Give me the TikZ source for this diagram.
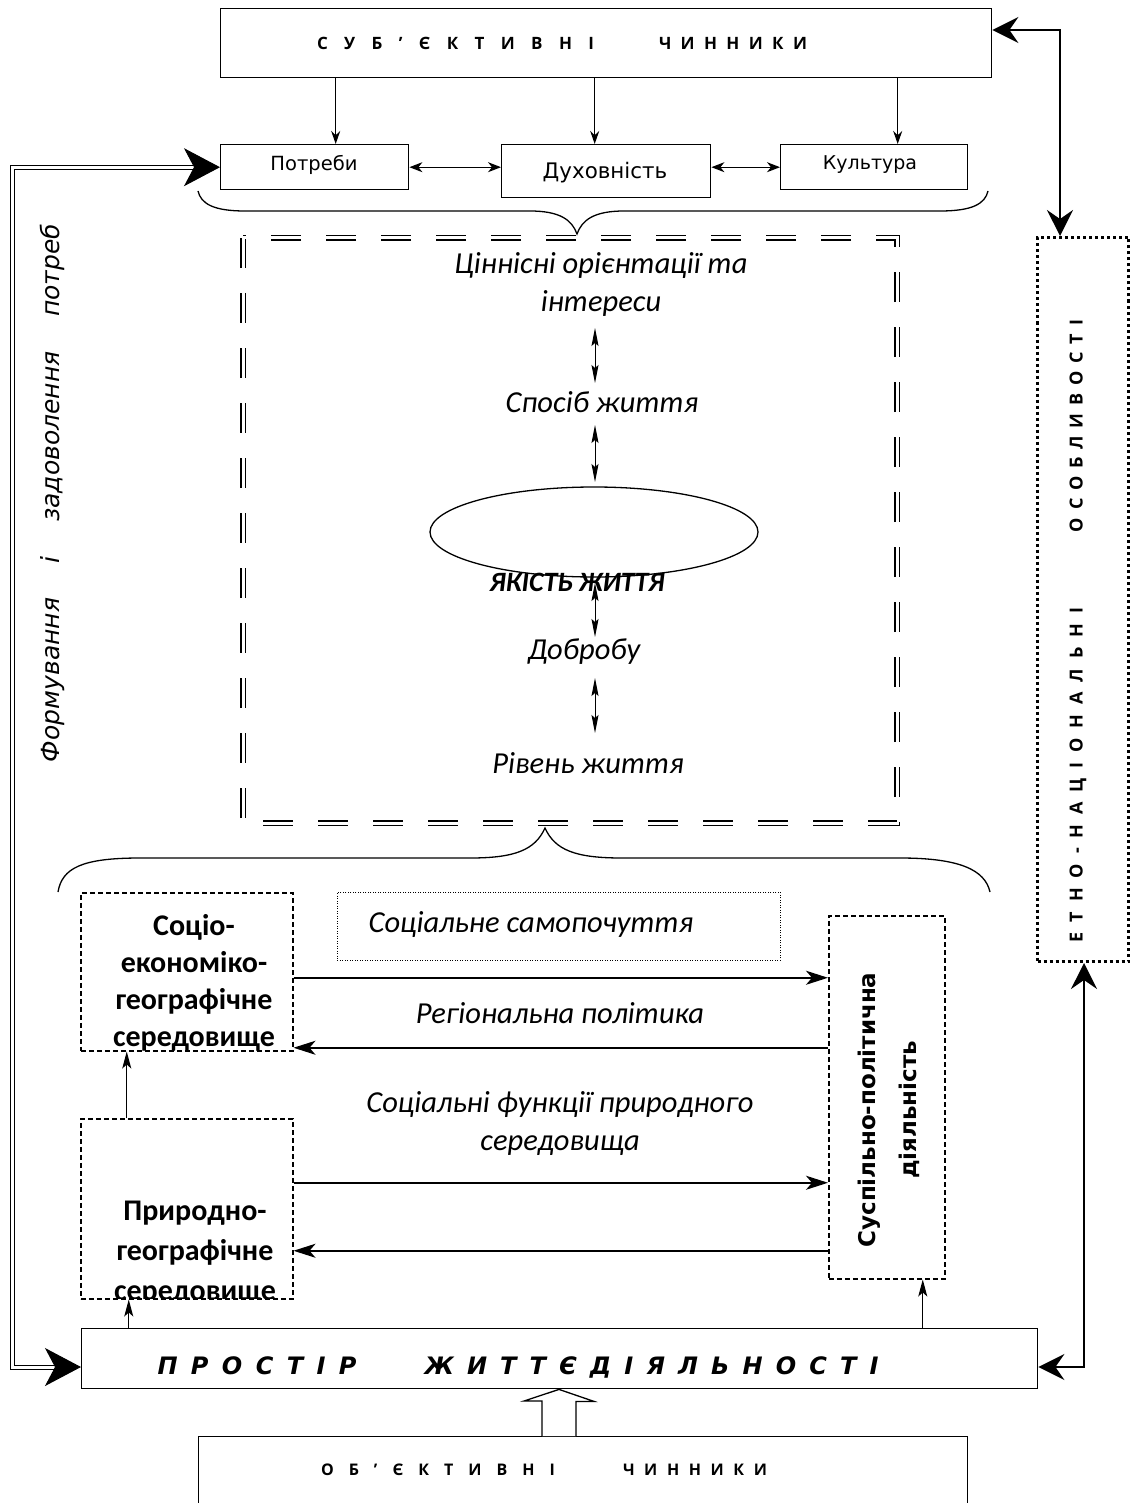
\documentclass[tikz,border=0pt]{standalone}
\usepackage{fontspec}
\setmainfont{Carlito}
\newfontfamily\dvs{DejaVu Sans}
\newfontfamily\osans{Open Sans}
\usetikzlibrary{arrows.meta,shapes.geometric,calc}
\newcommand{\spr}[2]{\makebox[#1][s]{#2}}
\begin{document}
\begin{tikzpicture}[x=1pt,y=-1pt,
  box/.style={draw, line width=1.4pt, inner sep=0pt, anchor=north west},
  dbox/.style={draw, line width=1.5pt, dash pattern=on 5pt off 3pt, inner sep=0pt, anchor=north west},
  dotbox/.style={draw, line width=0.8pt, dash pattern=on 1pt off 1.5pt, inner sep=0pt, anchor=north west},
  thickdot/.style={draw, line width=3pt, dash pattern=on 3pt off 3pt, inner sep=0pt, anchor=north west},
  frame/.style={draw, double, double distance=3pt, line width=1.2pt, dash pattern=on 30pt off 25pt},
  downarr/.style={line width=1.3pt, -{Stealth[length=13pt,width=9pt]}},
  smallboth/.style={line width=1.2pt, {Stealth[length=13pt,width=10pt,inset=4pt]}-{Stealth[length=13pt,width=10pt,inset=4pt]}},
  vboth/.style={line width=0.9pt, {Stealth[length=18pt,width=7pt,inset=3pt]}-{Stealth[length=18pt,width=7pt,inset=3pt]}},
  harr/.style={line width=1.8pt, -{Stealth[length=22pt,width=14pt,inset=6pt]}},
  uparr/.style={line width=1.2pt, -{Stealth[length=17pt,width=9pt,inset=4pt]}},
  bigdouble/.style={double, double distance=3pt, line width=1pt, {Stealth[length=36pt,width=38pt,inset=10pt]}-{Stealth[length=36pt,width=38pt,inset=10pt]}},
  bigr/.style={line width=1.8pt, {Stealth[length=26pt,width=26pt,inset=9pt]}-{Stealth[length=26pt,width=26pt,inset=9pt]}},
  itx/.style={font={\itshape\fontsize{30.5}{38}\selectfont}, align=center, inner sep=0pt},
  brace/.style={line width=1.3pt}
]
\useasboundingbox (0,0) rectangle (1130,1503);

% top box
\node[box, minimum width=771pt, minimum height=69pt] (top) at (220,8) {};
\node[font={\osans\bfseries\fontsize{17}{20}\selectfont}, inner sep=0pt] (topT) at (562,43)
  {\spr{277pt}{С У Б ’ Є К Т И В Н І}\hspace{65pt}\spr{148pt}{Ч И Н Н И К И}};

\node[box, minimum width=188pt, minimum height=45pt] (potrebi) at (220,144) {};
\node[font={\dvs\fontsize{19.5}{22}\selectfont}, inner sep=0pt] (potrebiT) at (314,165) {Потреби};
\node[box, minimum width=209pt, minimum height=53pt] (dukh) at (501,144) {};
\node[font={\dvs\fontsize{21.4}{24}\selectfont}, inner sep=0pt] (dukhT) at (605,173) {Духовність};
\node[box, minimum width=187pt, minimum height=45pt] (kult) at (780,144) {};
\node[font={\dvs\fontsize{19}{22}\selectfont}, inner sep=0pt] (kultT) at (870,165) {Культура};

\draw[downarr] ([xshift=21pt]potrebi.north |- top.south) -- ([xshift=21pt]potrebi.north);
\draw[downarr] ([xshift=-11.5pt]dukh.north |- top.south) -- ([xshift=-11.5pt]dukh.north);
\draw[downarr] ([xshift=23.5pt]kult.north |- top.south) -- ([xshift=23.5pt]kult.north);
\draw[smallboth] (potrebi.east) -- (potrebi.east -| dukh.west);
\draw[smallboth] (kult.west -| dukh.east) -- (kult.west);

% top brace
\draw[brace] (198,191) .. controls (201,204) and (214,211) .. (245,211) -- (530,211)
  .. controls (560,211) and (572,220) .. (577,234) .. controls (582,220) and (594,211) .. (624,211)
  -- (940,211) .. controls (972,211) and (985,204) .. (988,191);

% dashed double frame
\draw[frame] (243,238) rectangle (897,823);

\node[itx] (t1) at (601,284) {Ціннісні орієнтації та\\інтереси};
\node[itx] (t2) at (602,402) {Спосіб життя};
\node[draw, ellipse, line width=1.3pt, minimum width=328pt, minimum height=90pt, inner sep=0pt] (ell) at (594,532) {};
\node[font={\bfseries\itshape\fontsize{28}{30}\selectfont}, inner sep=0pt] (t3) at (577,582) {ЯКІСТЬ ЖИТТЯ};
\node[itx] (t4) at (584,652) {Добробу};
\node[itx] (t5) at (588,763) {Рівень життя};

\coordinate (v1a) at (595,328); \coordinate (v1b) at (595,383);
\coordinate (v2a) at (595,425); \coordinate (v2b) at (595,482);
\coordinate (v3a) at (595,583); \coordinate (v3b) at (595,637);
\coordinate (v4a) at (595,678); \coordinate (v4b) at (595,733);
\draw[vboth] (v1a) -- (v1b);
\draw[vboth] (v2a) -- (v2b);
\draw[vboth] (v3a) -- (v3b);
\draw[vboth] (v4a) -- (v4b);

% bottom brace
\draw[brace] (58,892) .. controls (62,868) and (82,858) .. (140,858) -- (470,858)
  .. controls (515,858) and (535,850) .. (545,828) .. controls (555,850) and (575,858) .. (622,858)
  -- (900,858) .. controls (960,858) and (985,870) .. (990,892);

% left boxes
\node[dbox, minimum width=212pt, minimum height=158pt] (socio) at (80,892) {};
\node[font={\bfseries\fontsize{30}{37}\selectfont}, align=center, inner sep=0pt] (socioT) at (194,983)
  {Соціо-\\економіко-\\географічне\\середовище};
\begin{scope}
\clip (80,1118) rectangle (292,1298);
\node[font={\bfseries\fontsize{30}{40}\selectfont}, align=center, inner sep=0pt] (pryrT) at (195,1253)
  {Природно-\\географічне\\середовище};
\end{scope}
\node[dbox, minimum width=212pt, minimum height=180pt] (pryr) at (80,1118) {};

\node[dotbox, minimum width=443pt, minimum height=68pt] (samop) at (337,892) {};
\node[itx] (samopT) at (531,925) {Соціальне самопочуття};

\node[dbox, minimum width=116pt, minimum height=363pt] (susp) at (828,915) {};
\node[rotate=90, font={\dvs\bfseries\fontsize{23}{41}\selectfont}, align=center, inner sep=0pt] (suspT) at (889,1110)
  {Суспільно-політична\\діяльність};

\node[itx] (regT) at (560,1013) {Регіональна політика};
\node[itx] (funcT) at (560,1124) {Соціальні функції природного\\середовища};

\draw[harr] ([yshift=-6pt]socio.east) -- ([yshift=-6pt]socio.east -| susp.west);
\draw[harr] ([yshift=-76pt]socio.east -| susp.west) -- ([yshift=-76pt]socio.east);
\draw[harr] ([yshift=26pt]pryr.east) -- ([yshift=26pt]pryr.east -| susp.west);
\draw[harr] ([yshift=-42pt]pryr.east -| susp.west) -- ([yshift=-42pt]pryr.east);
\draw[uparr] ([xshift=-60pt]pryr.north) -- ([xshift=-60pt]pryr.north |- socio.south);

% right dotted box
\node[thickdot, minimum width=91pt, minimum height=724pt] (etno) at (1036,236) {};
\node[rotate=90, font={\osans\bfseries\fontsize{18}{22}\selectfont}, inner sep=0pt] (etnoT) at (1078,631)
  {\spr{334pt}{Е Т Н О - Н А Ц І О Н А Л Ь Н І}\hspace{76pt}\spr{212pt}{О С О Б Л И В О С Т І}};

% space of life
\node[box, minimum width=956pt, minimum height=60pt] (prostir) at (81,1328) {};
\node[font={\dvs\bfseries\itshape\fontsize{24}{28}\selectfont}, inner sep=0pt] (prostirT) at (518,1367)
  {\spr{199pt}{П Р О С Т І Р}\hspace{68pt}\spr{454pt}{Ж И Т Т Є Д І Я Л Ь Н О С Т І}};

\draw[uparr] ([xshift=-58pt]pryr.south |- prostir.north) -- ([xshift=-58pt]pryr.south);
\draw[uparr] ([xshift=36pt]susp.south |- prostir.north) -- ([xshift=36pt]susp.south);

% objective factors
\node[box, minimum width=769pt, minimum height=100pt] (obj) at (198,1436) {};
\node[font={\osans\bfseries\fontsize{16}{20}\selectfont}, inner sep=0pt] (objT) at (544,1470)
  {\spr{234pt}{О Б ’ Є К Т И В Н І}\hspace{68pt}\spr{144pt}{Ч И Н Н И К И}};

\coordinate (ba) at (obj.north -| 559,0);
\draw[line width=1.3pt, fill=white] ([xshift=-17pt]ba) -- ++(0,-35) -- ++(-18,0) -- ($(ba |- prostir.south)$) -- ++(35,12) -- ++(-18,0) -- ([xshift=17pt]ba);

% left vertical text
\node[rotate=90, font={\dvs\itshape\fontsize{25}{28}\selectfont}, inner sep=0pt] (leftT) at (52,493)
  {\spr{538pt}{Формування і задоволення потреб}};

% connectors with big heads
\coordinate (L1) at (12,166.5);
\coordinate (L2) at (12,1367);
\draw[bigdouble] (potrebi.west) -- (potrebi.west -| L1) -- (L2) -- (L2 -| prostir.west);

\coordinate (R1) at (1060,30);
\draw[bigr] (R1 -| top.east) -- (R1) -- (R1 |- etno.north);
\coordinate (R2) at (1084,1367);
\draw[bigr] (R2 |- etno.south) -- (R2) -- (R2 -| prostir.east);
\end{tikzpicture}
\end{document}
